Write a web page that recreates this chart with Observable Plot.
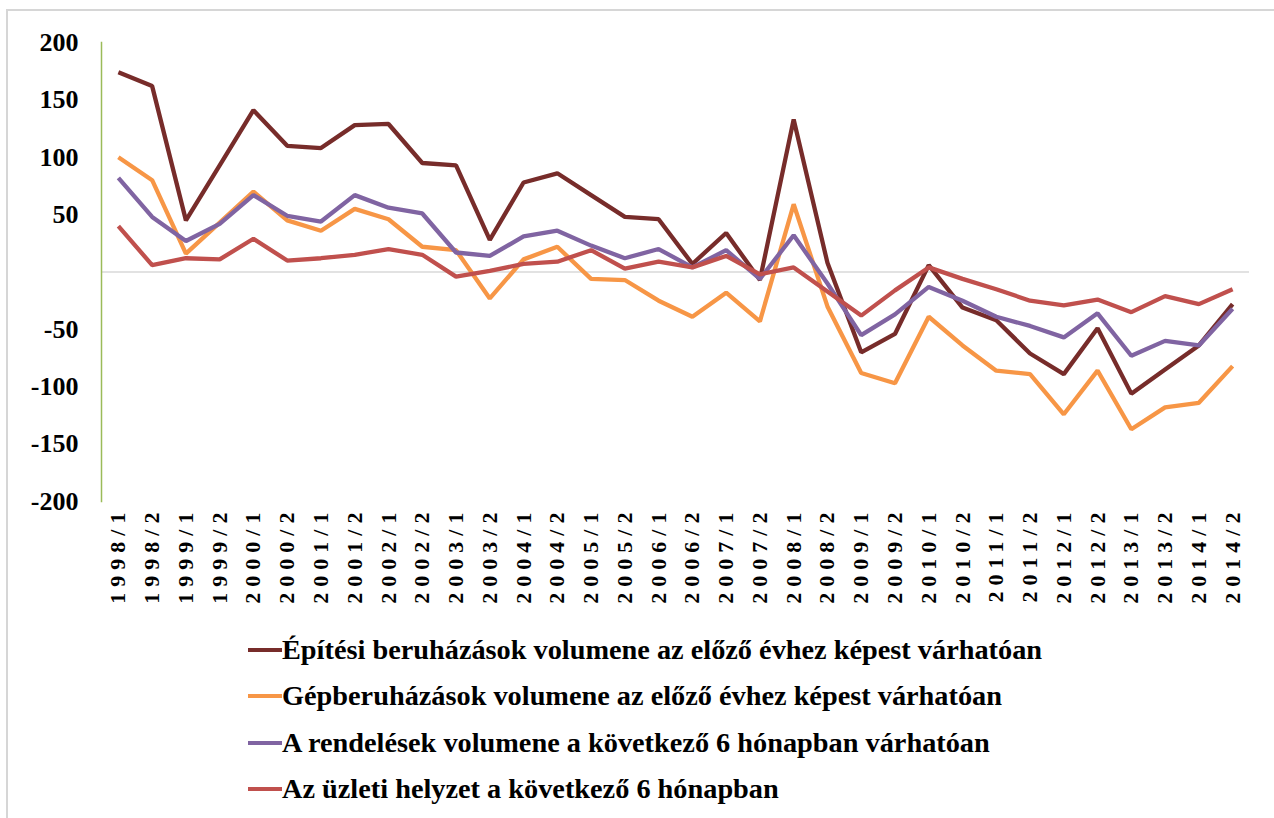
<!DOCTYPE html>
<html><head><meta charset="utf-8">
<script src="https://cdn.jsdelivr.net/npm/d3@7"></script>
<script src="https://cdn.jsdelivr.net/npm/@observablehq/plot@0.6"></script>
<style>
body{margin:0;background:#fff;font-family:"Liberation Serif",serif;}
#wrap{position:relative;width:1274px;height:818px;overflow:hidden;background:#fff}
#border{position:absolute;left:6px;top:9px;right:-10px;bottom:-10px;border-left:2px solid #d6d6d6;border-top:2px solid #d6d6d6}
#chart{position:absolute;left:0;top:0}
#legend{position:absolute;left:248px;top:627px}
.item{display:flex;align-items:center;height:46.3px;font-weight:bold;font-size:28.3px;color:#000;white-space:nowrap}
.sw{width:34px;height:4px;flex:none}
</style></head>
<body>
<div id="wrap"><div id="border"></div><div id="chart"></div><div id="legend"></div></div>
<script>
const periods = ["1998/1","1998/2","1999/1","1999/2","2000/1","2000/2","2001/1","2001/2","2002/1","2002/2",
  "2003/1","2003/2","2004/1","2004/2","2005/1","2005/2","2006/1","2006/2","2007/1","2007/2",
  "2008/1","2008/2","2009/1","2009/2","2010/1","2010/2","2011/1","2011/2","2012/1","2012/2",
  "2013/1","2013/2","2014/1","2014/2"];
const seriesNames = [
  "Építési beruházások volumene az előző évhez képest várhatóan",
  "Gépberuházások volumene az előző évhez képest várhatóan",
  "A rendelések volumene a következő 6 hónapban várhatóan",
  "Az üzleti helyzet a következő 6 hónapban"
];
const seriesColors = ["#772c2a", "#f79646", "#8064a2", "#c0504d"];
const epitesi = [174,162,45,93,141,110,108,128,129,95,93,28,78,86,67,48,46,7,34,-7,133,8,-70,-54,6,-31,-42,-71,-89,-49,-106,-85,-64,-28];
const gep = [100,80,16,43,70,45,36,55,46,22,19,-23,11,22,-6,-7,-25,-39,-18,-43,59,-30,-88,-97,-39,-64,-86,-89,-124,-86,-137,-118,-114,-82];
const rendeles = [82,48,27,42,67,49,44,67,56,51,17,14,31,36,23,12,20,4,19,-6,32,-10,-55,-37,-13,-25,-39,-47,-57,-36,-73,-60,-64,-32];
const uzleti = [40,6,12,11,29,10,12,15,20,15,-4,1,7,9,19,3,9,4,14,-2,4,-17,-38,-16,4,-6,-15,-25,-29,-24,-35,-21,-28,-15];
const yTicks = [-200,-150,-100,-50,50,100,150,200];

const valuesBySeries = [epitesi, gep, rendeles, uzleti];
const data = seriesNames.flatMap((name, s) =>
  periods.map((p, i) => ({period: p, series: name, value: valuesBySeries[s][i]})));

const chart = Plot.plot({
  width: 1274, height: 620,
  marginTop: 42, marginBottom: 119, marginLeft: 101, marginRight: 25,
  style: {fontFamily: '"Liberation Serif", serif', fontWeight: "bold", color: "#000", background: "transparent", overflow: "visible"},
  x: {type: "point", domain: periods, padding: 0.5, round: false},
  y: {domain: [-200, 200]},
  color: {domain: seriesNames, range: seriesColors},
  marks: [
    Plot.ruleY([0], {stroke: "#d9d9d9", strokeWidth: 1.5}),
    Plot.frame({anchor: "left", stroke: "#9bbb59", strokeWidth: 1.5}),
    Plot.axisY({ticks: yTicks, tickFormat: d => String(d), tickSize: 0, tickPadding: 23, fontSize: 26, fontWeight: "bold", label: null}),
    Plot.axisX({ticks: periods, tickRotate: -90, tickSize: 0, tickPadding: 5, fontSize: 22, fontWeight: "bold", label: null}),
    Plot.line(data, {x: "period", y: "value", z: "series", stroke: "series", strokeWidth: 4.3, strokeLinejoin: "miter", strokeLinecap: "butt"})
  ]
});
document.getElementById("chart").appendChild(chart);
d3.select(chart).selectAll('g[aria-label="x-axis tick label"] text').style("letter-spacing", "6px");

const legend = d3.select("#legend");
seriesNames.forEach((name, i) => {
  const it = legend.append("div").attr("class", "item");
  it.append("div").attr("class", "sw").style("background", seriesColors[i]);
  it.append("span").text(name);
});
</script>
</body></html>
